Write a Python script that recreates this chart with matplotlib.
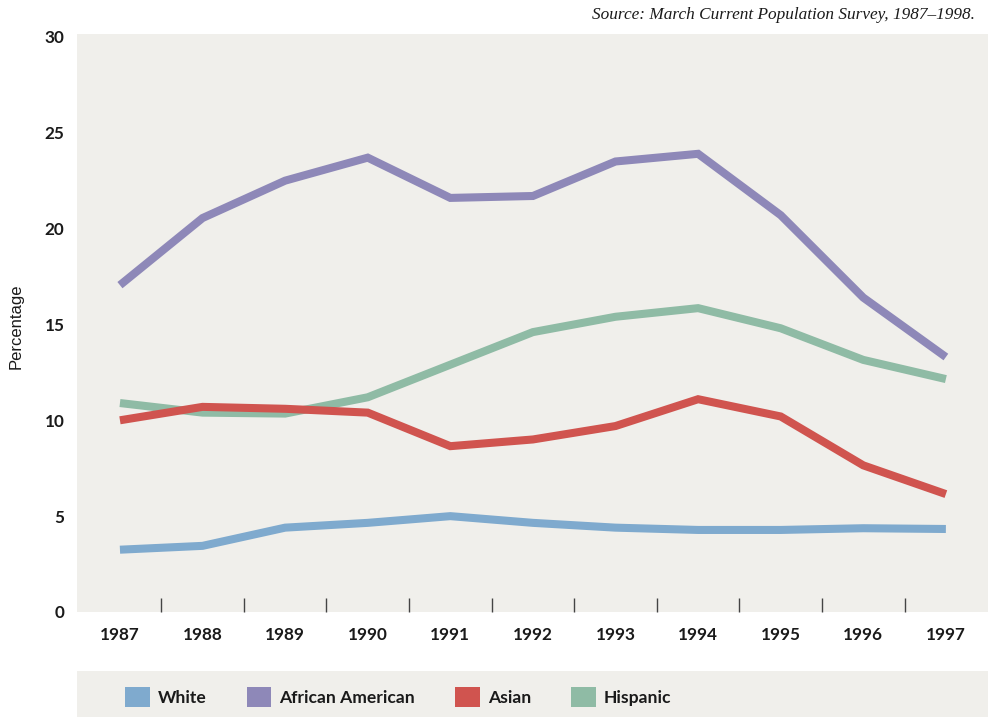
import matplotlib.pyplot as plt
import numpy as np
from matplotlib.patches import Patch

# data
years = [1987, 1988, 1989, 1990, 1991, 1992, 1993, 1994, 1995, 1996, 1997]
white = [3.25, 3.45, 4.4, 4.65, 5.0, 4.65, 4.4, 4.28, 4.28, 4.37, 4.33]
african_american = [17.05, 20.55, 22.5, 23.7, 21.6, 21.7, 23.5, 23.9, 20.7, 16.4, 13.3]
asian = [10.0, 10.7, 10.6, 10.4, 8.65, 9.0, 9.7, 11.1, 10.2, 7.65, 6.15]
hispanic = [10.9, 10.4, 10.35, 11.2, 12.9, 14.6, 15.4, 15.85, 14.8, 13.15, 12.15]

series_names = ["White", "African American", "Asian", "Hispanic"]
series_colors = ["#7faace", "#8e88b8", "#d0544f", "#8fbba5"]
y_ticks = [0, 5, 10, 15, 20, 25, 30]

bg = "#f0efeb"
label_font = ["Lato", "DejaVu Sans"]

fig = plt.figure(figsize=(9.88, 7.17), dpi=100)
ax = fig.add_axes([77 / 988, 105 / 717, 911 / 988, 578 / 717])
ax.set_facecolor(bg)

# draw lines, the order keeps blue/purple under the others like the original
for vals, color in zip([white, african_american, hispanic, asian],
                       [series_colors[0], series_colors[1], series_colors[3], series_colors[2]]):
    ax.plot(years, vals, color=color, linewidth=5.8,
            solid_capstyle="butt", solid_joinstyle="miter")

ax.set_xlim(1986.48, 1997.51)
ax.set_ylim(0, 30.15)

for s in ax.spines.values():
    s.set_visible(False)

# year labels under the points, tick marks between years
ax.set_xticks(years)
ax.set_xticklabels([str(y) for y in years], fontsize=12.3, fontweight="bold",
                   family=label_font, color="#1a1a1a")
ax.set_xticks(np.array(years[:-1]) + 0.5, minor=True)
ax.tick_params(axis="x", which="major", length=0, pad=11)
ax.tick_params(axis="x", which="minor", direction="in", length=10,
               width=1, color="#444444")

ax.set_yticks(y_ticks)
ax.set_yticklabels([str(v) for v in y_ticks], fontsize=12.3, fontweight="bold",
                   family=label_font, color="#1a1a1a")
ax.tick_params(axis="y", length=0, pad=9)

fig.text(16 / 988, 1 - 326 / 717, "Percentage", rotation=90, ha="center",
         va="center", fontsize=12, family=["Liberation Sans", "DejaVu Sans"],
         color="#1a1a1a")

fig.text(975 / 988, 1 - 15 / 717, "Source: March Current Population Survey, 1987\u20131998.",
         ha="right", va="center", fontsize=12.4, style="italic",
         family=["Liberation Serif", "DejaVu Serif"], color="#1a1a1a")

# legend band at the bottom
ax_leg = fig.add_axes([77 / 988, 0, 911 / 988, 46 / 717])
ax_leg.set_facecolor(bg)
ax_leg.set_xticks([])
ax_leg.set_yticks([])
for s in ax_leg.spines.values():
    s.set_visible(False)

handles = [Patch(facecolor=c, edgecolor="none", label=n)
           for n, c in zip(series_names, series_colors)]
leg = ax_leg.legend(handles=handles, ncol=4, loc="center left",
                    bbox_to_anchor=(48 / 911, 0.43), frameon=False,
                    prop={"family": label_font, "weight": "bold", "size": 12.6},
                    handlelength=1.4, handleheight=1.4, handletextpad=0.48,
                    columnspacing=2.28, borderpad=0, borderaxespad=0)
for t in leg.get_texts():
    t.set_color("#1a1a1a")

fig.savefig("out.png", dpi=100)
